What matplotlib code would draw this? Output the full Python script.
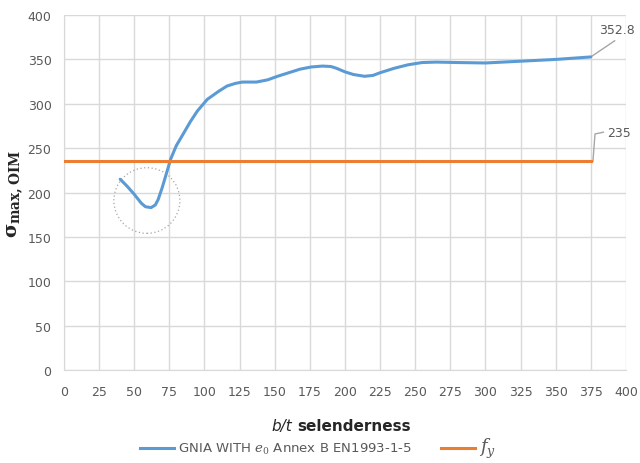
import matplotlib
matplotlib.use("Agg")
import matplotlib.pyplot as plt
from matplotlib.patches import Ellipse
from matplotlib.lines import Line2D

plt.rcParams["mathtext.fontset"] = "dejavuserif"

# Data
slenderness = [40, 45, 50, 55, 58, 62, 65, 67, 70, 73, 76, 80, 83, 90, 95, 102, 110, 116, 122, 127,
               137, 145, 152, 160, 168, 176, 184, 190, 194, 200, 206, 214, 220, 225, 235, 245,
               255, 265, 280, 300, 325, 350, 375]
sigma_gnia = [215, 207, 198, 188, 184, 183, 186, 192, 206, 222, 238, 253, 261, 280, 292, 305, 314,
              320, 323, 324.5, 324.5, 327, 331, 335, 339, 341.5, 342.5, 342, 340, 336, 333, 331,
              332, 335, 340, 344, 346.5, 347, 346.5, 346, 348, 350, 352.8]
fy_x = [0, 375]
fy_y = [235, 235]
xticks = list(range(0, 401, 25))
yticks = list(range(0, 401, 50))

blue = "#5B9BD5"
orange = "#ED7D31"
grid_c = "#D9D9D9"
tick_c = "#595959"

fig = plt.figure(figsize=(6.4, 4.64), dpi=100)
ax = fig.add_axes([0.1, 0.2004, 0.878, 0.765])

ax.plot(slenderness, sigma_gnia, color=blue, lw=2.2, solid_capstyle="round", zorder=3)
ax.plot(fy_x, fy_y, color=orange, lw=2.2, zorder=3)

ax.set_xlim(0, 400)
ax.set_ylim(0, 400)
ax.set_xticks(xticks)
ax.set_yticks(yticks)
ax.grid(True, color=grid_c, lw=1)
ax.set_axisbelow(True)
for s in ax.spines.values():
    s.set_visible(False)
ax.spines["left"].set_visible(True)
ax.spines["left"].set_color(grid_c)
ax.spines["bottom"].set_visible(True)
ax.spines["bottom"].set_color(grid_c)
ax.tick_params(length=0, colors=tick_c, labelsize=9)
ax.tick_params(axis="x", pad=11)
ax.tick_params(axis="y", pad=9)

# dotted circle
ax.add_patch(Ellipse((59, 191), 47, 74, fill=False, ls=(0, (1, 2)), color="#A6A6A6", lw=0.9, zorder=2))

# data labels with leader lines
ax.plot([375, 392], [352.8, 371], color="#A6A6A6", lw=1, zorder=2)
ax.text(393.5, 384, "352.8", fontsize=9, color=tick_c, ha="center", va="center", clip_on=False)
ax.plot([375, 376.5, 378, 384], [235, 235, 266, 268], color="#A6A6A6", lw=1, zorder=2)
ax.text(386.5, 268, "235", fontsize=9, color=tick_c, ha="left", va="center", clip_on=False)

ax.set_ylabel(r"$\mathbf{\sigma_{max,OIM}}$", fontsize=14, color="#262626")
ax.yaxis.set_label_coords(-0.07, 0.5)

fig.text(0.456, 0.08, "b/t", ha="right", va="center", fontsize=11, style="italic", color="#262626")
fig.text(0.464, 0.08, "selenderness", ha="left", va="center", fontsize=11, weight="bold", color="#262626")

handles = [Line2D([], [], color=blue, lw=2.2), Line2D([], [], color=orange, lw=2.2)]
labels = [r"GNIA WITH $e_0$ Annex B EN1993-1-5", r"$f_y$"]
leg = fig.legend(handles, labels, loc="center", bbox_to_anchor=(0.497, 0.032), ncol=2, frameon=False,
                 fontsize=9.5, handlelength=2.6, columnspacing=2.2, handletextpad=0.3,
                 borderpad=0, borderaxespad=0)
for t in leg.get_texts():
    t.set_color(tick_c)
leg.get_texts()[1].set_fontsize(13)

fig.savefig("out.png", dpi=100)
